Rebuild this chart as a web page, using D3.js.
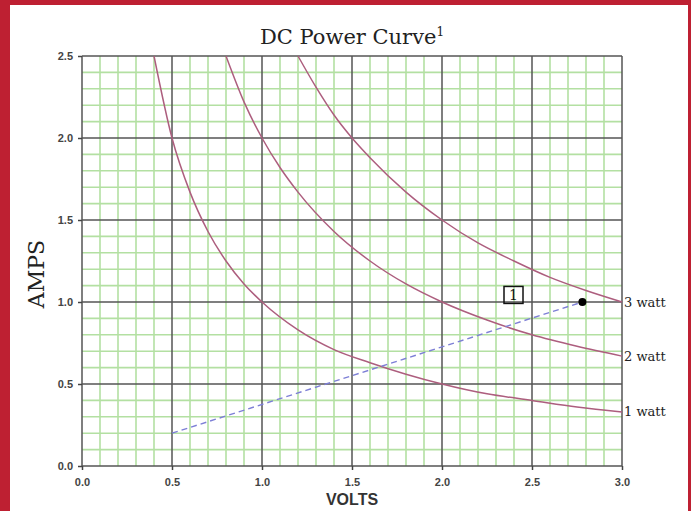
<!DOCTYPE html>
<html>
<head>
<meta charset="utf-8">
<script src="https://cdn.jsdelivr.net/npm/d3@7"></script>
<style>
  body { margin: 0; background: #fff; }
  svg { display: block; }
</style>
</head>
<body>
<div id="chart"></div>
<script>
// curve points (volts, amps)
const watts = ['1 watt', '2 watt', '3 watt']
const volts1 = [0.4, 0.5, 0.6, 0.7, 0.8, 0.9, 1.0, 1.2, 1.4, 1.6, 1.8, 2.0, 2.25, 2.5, 2.75, 3.0]
const amps1 = [2.5, 2.0, 1.67, 1.43, 1.25, 1.11, 1.0, 0.83, 0.71, 0.63, 0.56, 0.5, 0.44, 0.4, 0.36, 0.33]
const volts2 = [0.8, 0.9, 1.0, 1.1, 1.2, 1.4, 1.6, 1.8, 2.0, 2.25, 2.5, 2.75, 3.0]
const amps2 = [2.5, 2.22, 2.0, 1.82, 1.67, 1.43, 1.25, 1.11, 1.0, 0.89, 0.8, 0.73, 0.67]
const volts3 = [1.2, 1.3, 1.4, 1.5, 1.6, 1.8, 2.0, 2.2, 2.4, 2.6, 2.8, 3.0]
const amps3 = [2.5, 2.31, 2.14, 2.0, 1.88, 1.67, 1.5, 1.36, 1.25, 1.15, 1.07, 1.0]

// dashed load line and operating point
const loadVolts = [0.5, 2.78]
const loadAmps = [0.2, 1.0]
const notePoint = [2.4, 1.04]

const xTicks = [0, 0.5, 1.0, 1.5, 2.0, 2.5, 3.0]
const yTicks = [0, 0.5, 1.0, 1.5, 2.0, 2.5]

const W = 691
const H = 511
const margin = { top: 56, left: 82, right: 69, bottom: 45 }
const width = W - margin.left - margin.right
const height = H - margin.top - margin.bottom

const svg = d3
  .select('#chart')
  .append('svg')
  .attr('width', W)
  .attr('height', H)

// red frame
svg.append('rect').attr('x', 0).attr('y', 0).attr('width', W).attr('height', H).attr('fill', '#be2032')
svg.append('rect').attr('x', 10).attr('y', 5).attr('width', W - 13).attr('height', H - 5).attr('fill', '#fff')

const g = svg.append('g').attr('transform', `translate(${margin.left},${margin.top})`)

const x = d3.scaleLinear().domain([0, 3]).range([0, width])
const y = d3.scaleLinear().domain([0, 2.5]).range([height, 0])

// minor green grid
const minorX = d3.range(1, 30).map(d => d / 10).filter(d => Math.round(d * 10) % 5 !== 0)
const minorY = d3.range(1, 25).map(d => d / 10).filter(d => Math.round(d * 10) % 5 !== 0)

g.selectAll('.minx')
  .data(minorX)
  .enter()
  .append('line')
  .attr('x1', d => x(d))
  .attr('x2', d => x(d))
  .attr('y1', 0)
  .attr('y2', height)
  .attr('stroke', '#b3e0a2')
  .attr('stroke-width', 1.6)

g.selectAll('.miny')
  .data(minorY)
  .enter()
  .append('line')
  .attr('x1', 0)
  .attr('x2', width)
  .attr('y1', d => y(d))
  .attr('y2', d => y(d))
  .attr('stroke', '#b3e0a2')
  .attr('stroke-width', 1.6)

// major grid
g.selectAll('.majx')
  .data(xTicks)
  .enter()
  .append('line')
  .attr('x1', d => x(d))
  .attr('x2', d => x(d))
  .attr('y1', 0)
  .attr('y2', height)
  .attr('stroke', '#555')
  .attr('stroke-width', 1.5)

g.selectAll('.majy')
  .data(yTicks)
  .enter()
  .append('line')
  .attr('x1', 0)
  .attr('x2', width)
  .attr('y1', d => y(d))
  .attr('y2', d => y(d))
  .attr('stroke', '#555')
  .attr('stroke-width', 1.5)

// axes
const xAxis = d3.axisBottom(x).tickValues(xTicks).tickFormat(d3.format('.1f')).tickSize(4).tickPadding(8)
const yAxis = d3.axisLeft(y).tickValues(yTicks).tickFormat(d3.format('.1f')).tickSize(4).tickPadding(5)

g.append('g')
  .attr('transform', `translate(0,${height})`)
  .call(xAxis)
  .call(a => a.select('.domain').remove())

g.append('g')
  .call(yAxis)
  .call(a => a.select('.domain').remove())

g.selectAll('.tick line').attr('stroke', '#444').attr('stroke-width', 1.5)
g.selectAll('.tick text')
  .attr('fill', '#444')
  .style('font-family', 'Liberation Sans, Arial, sans-serif')
  .style('font-weight', 'bold')
  .style('font-size', '11px')

// power curves
const curves = [
  { name: watts[0], pts: volts1.map((v, i) => [v, amps1[i]]) },
  { name: watts[1], pts: volts2.map((v, i) => [v, amps2[i]]) },
  { name: watts[2], pts: volts3.map((v, i) => [v, amps3[i]]) }
]

const line = d3
  .line()
  .x(d => x(d[0]))
  .y(d => y(d[1]))
  .curve(d3.curveMonotoneX)

g.selectAll('.curve')
  .data(curves)
  .enter()
  .append('path')
  .attr('d', d => line(d.pts))
  .attr('fill', 'none')
  .attr('stroke', '#ad5e7e')
  .attr('stroke-width', 1.5)

g.selectAll('.clabel')
  .data(curves)
  .enter()
  .append('text')
  .attr('x', width + 2)
  .attr('y', d => y(d.pts[d.pts.length - 1][1]))
  .attr('dy', '0.35em')
  .attr('fill', '#222')
  .style('font-family', 'DejaVu Serif, serif')
  .style('font-size', '13px')
  .text(d => d.name)

// load line
g.append('path')
  .attr('d', line(loadVolts.map((v, i) => [v, loadAmps[i]])))
  .attr('fill', 'none')
  .attr('stroke', '#7d7fd6')
  .attr('stroke-width', 1.4)
  .attr('stroke-dasharray', '6,4')

g.append('circle')
  .attr('cx', x(loadVolts[1]))
  .attr('cy', y(loadAmps[1]))
  .attr('r', 4)
  .attr('fill', '#000')

// footnote marker
g.append('rect')
  .attr('x', x(notePoint[0]) - 10)
  .attr('y', y(notePoint[1]) - 9)
  .attr('width', 19)
  .attr('height', 17)
  .attr('fill', 'none')
  .attr('stroke', '#111')
  .attr('stroke-width', 1.5)

g.append('text')
  .attr('x', x(notePoint[0]) - 0.5)
  .attr('y', y(notePoint[1]))
  .attr('dy', '0.36em')
  .attr('text-anchor', 'middle')
  .attr('fill', '#111')
  .style('font-family', 'DejaVu Serif, serif')
  .style('font-size', '14px')
  .text('1')

// titles
svg.append('text')
  .attr('x', margin.left + width / 2)
  .attr('y', 44)
  .attr('text-anchor', 'middle')
  .attr('fill', '#222')
  .style('font-family', 'DejaVu Serif, serif')
  .style('font-size', '21px')
  .text('DC Power Curve')
  .append('tspan')
  .attr('dy', -8)
  .style('font-size', '12px')
  .text('1')

svg.append('text')
  .attr('transform', `translate(44,${margin.top + y(1.17)}) rotate(-90)`)
  .attr('text-anchor', 'middle')
  .attr('fill', '#222')
  .style('font-family', 'DejaVu Serif, serif')
  .style('font-size', '22px')
  .text('AMPS')

svg.append('text')
  .attr('x', margin.left + width / 2)
  .attr('y', 505)
  .attr('text-anchor', 'middle')
  .attr('fill', '#333')
  .style('font-family', 'Liberation Sans, Arial, sans-serif')
  .style('font-weight', 'bold')
  .style('font-size', '16px')
  .text('VOLTS')
</script>
</body>
</html>
